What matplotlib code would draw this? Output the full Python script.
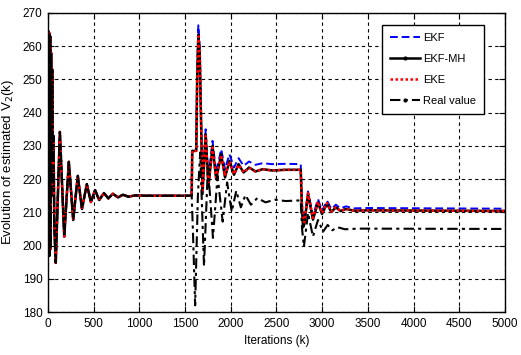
import numpy as np
import matplotlib
matplotlib.use("Agg")
import matplotlib.pyplot as plt
from matplotlib.lines import Line2D

plt.rcParams['font.family'] = ['Liberation Sans', 'DejaVu Sans']

# shared start (all estimators follow the real value here)
K_INIT = [0, 4, 9, 14, 19, 24, 29, 34, 40, 46, 53, 60, 70, 85, 130, 178, 228, 276,
          326, 372, 425, 470, 515, 560, 612, 660, 710, 765, 820, 880, 950, 1050, 1572]
V_INIT = [215, 264.5, 197, 264, 197, 263, 199, 258, 215, 253, 226, 233, 205, 194.8,
          234.2, 202.7, 225.2, 207.7, 221, 211, 218.5, 213.1, 216.7, 213.7, 215.8,
          214.2, 215.6, 214.5, 215.3, 214.7, 215.1, 215, 215]

# after first step change
K_MID = [1578, 1622, 1632, 1645, 1660, 1690, 1725, 1755, 1800, 1840, 1895, 1937,
         1985, 2035, 2085, 2140, 2200, 2270, 2350, 2450, 2600, 2765]
EKF_MID = [228.5, 229, 252, 266.3, 260, 217.5, 235, 220, 231.5, 222, 229, 223,
           227.5, 223.5, 226.3, 224, 225.3, 224.3, 224.8, 224.5, 224.6, 224.5]
MH_MID = [228.5, 228.5, 250, 263.5, 258, 215.5, 233.5, 217.5, 230, 220, 227.5, 220.5,
          225.5, 221.3, 224.5, 222, 223.5, 222.3, 223, 222.6, 222.8, 222.8]
EKE_MID = [228.5, 228.5, 250, 263, 258, 216.5, 233, 218.5, 229.5, 220.5, 227.2, 221,
           225.3, 221.5, 224.3, 222, 223.4, 222.3, 223, 222.6, 222.8, 222.8]
K_REAL_MID = [1585, 1610, 1640, 1665, 1707, 1750, 1805, 1855, 1911, 1960, 2010,
              2060, 2110, 2160, 2220, 2290, 2380, 2480, 2600, 2765]
REAL_MID = [205, 182, 215, 228, 193.8, 224, 202.3, 221, 207.2, 219, 210.2,
            216.5, 211.5, 215.2, 212.3, 214.3, 213.0, 213.8, 213.4, 213.6]

# after second step change
K_END = [2778, 2790, 2805, 2845, 2899, 2954, 2998, 3053, 3100, 3150, 3200, 3260,
         3350, 3500, 5000]
EKF_END = [213, 208.5, 207.5, 216.3, 209, 214, 210.5, 213.5, 211, 212.3, 211.2,
           211.8, 211.2, 211.3, 211.1]
MH_END = [211.5, 205.5, 206.5, 215.5, 207.8, 213, 209.5, 212.6, 210.1, 211.5, 210.4,
          211, 210.5, 210.6, 210.4]
EKE_END = [212, 207.7, 207, 215.8, 208.3, 213.2, 209.8, 212.8, 210.2, 211.6, 210.4,
           211, 210.5, 210.6, 210.4]
K_REAL_END = [2780, 2800, 2845, 2899, 2954, 3010, 3060, 3110, 3170, 3250, 3400, 5000]
REAL_END = [205, 199.7, 209.8, 202.7, 207.7, 204.2, 206.2, 204.6, 205.5, 204.9,
            205.1, 205.0]

fig = plt.figure(figsize=(5.21, 3.55), dpi=100)
ax = fig.add_axes([0.0921, 0.1211, 0.8772, 0.8423])

k_est = K_INIT + K_MID + K_END
k_real = K_INIT + K_REAL_MID + K_REAL_END

ax.plot(k_est, V_INIT + EKF_MID + EKF_END, color='blue', ls='--', lw=1.4, dashes=(4, 2))
ax.plot(k_est, V_INIT + MH_MID + MH_END, color='black', ls='-', lw=1.8)
ax.plot(k_est, V_INIT + EKE_MID + EKE_END, color='red', ls=':', lw=1.8, dashes=(1, 1))
ax.plot(k_real, V_INIT + REAL_MID + REAL_END, color='black', ls='-.', lw=1.5,
        dashes=(5, 2, 1.5, 2))

ax.set_xlim(0, 5000)
ax.set_ylim(180, 270)
ax.set_xticks(np.arange(0, 5001, 500))
ax.set_yticks(np.arange(180, 271, 10))
ax.grid(True, color='black', ls='--', lw=0.8, dashes=(3, 3))
ax.tick_params(direction='in', length=4, top=True, right=True, labelsize=8.5, pad=4)
for s in ax.spines.values():
    s.set_linewidth(1.0)

ax.set_xlabel('Iterations (k)', fontsize=8.5, labelpad=4)
ax.set_ylabel('Evolution of estimated V$_2$(k)', fontsize=9.5, labelpad=5)

handles = [
    Line2D([], [], color='blue', ls='--', lw=1.4, dashes=(4, 2)),
    Line2D([], [], color='black', ls='-', lw=1.8, marker='.', ms=4),
    Line2D([], [], color='red', ls=':', lw=1.8, dashes=(1, 1)),
    Line2D([], [], color='black', ls='-.', lw=1.5, marker='.', ms=4, dashes=(5, 2, 1.5, 2)),
]
leg = ax.legend(handles, ['EKF', 'EKF-MH', 'EKE', 'Real value'], loc='upper right',
                bbox_to_anchor=(0.954, 0.96), fontsize=8, handlelength=2.7,
                fancybox=False, framealpha=1, edgecolor='black', borderpad=0.7,
                labelspacing=1.0, handletextpad=0.3, borderaxespad=0)
leg.get_frame().set_linewidth(1.0)

fig.savefig('out.png', dpi=100)
